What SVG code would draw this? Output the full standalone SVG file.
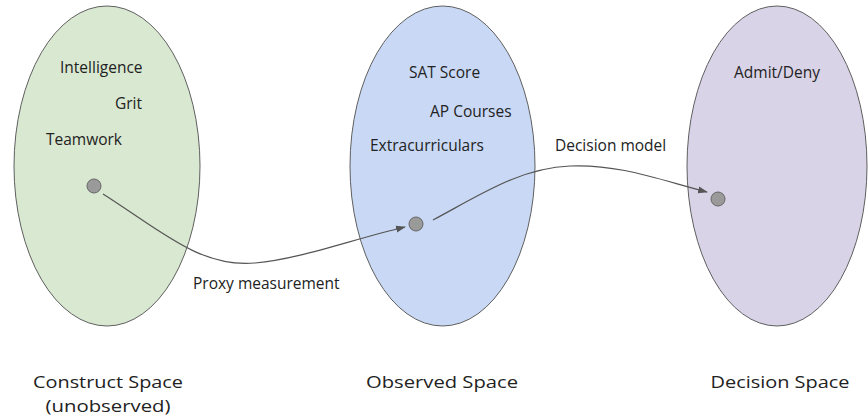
<svg xmlns="http://www.w3.org/2000/svg" width="868" height="416" viewBox="0 0 868 416">
<style>
.sp{stroke:#5f5f5f;stroke-width:1}
.dot{fill:#9a9a9a;stroke:#666;stroke-width:1}
.t{font-family:"Open Sans",sans-serif;font-size:15.5px;fill:#222}
.b{font-family:"Open Sans",sans-serif;font-size:16.5px;fill:#222;text-anchor:middle}
.c{fill:none;stroke:#555;stroke-width:1.2}
</style>
<defs>
<marker id="ah" markerWidth="10" markerHeight="8" refX="9" refY="4" orient="auto" markerUnits="userSpaceOnUse">
<path d="M0,0.5 L10,4 L0,7.5 Z" fill="#555"/>
</marker>
</defs>
<rect width="868" height="416" fill="#fff"/>
<g id="construct">
<ellipse class="sp" cx="107" cy="166" rx="93" ry="160" fill="#d9e8d1"/>
<text class="t" x="60" y="73">Intelligence</text>
<text class="t" x="115" y="109">Grit</text>
<text class="t" x="46" y="145">Teamwork</text>
<circle class="dot" cx="94" cy="186" r="7"/>
<text class="b" x="108" y="388" textLength="150" lengthAdjust="spacingAndGlyphs">Construct Space</text>
<text class="b" x="108" y="412" textLength="125" lengthAdjust="spacingAndGlyphs">(unobserved)</text>
</g>
<g id="observed">
<ellipse class="sp" cx="442.5" cy="166" rx="92.5" ry="160" fill="#c9d9f5"/>
<text class="t" x="409" y="78">SAT Score</text>
<text class="t" x="430" y="117">AP Courses</text>
<text class="t" x="370" y="151">Extracurriculars</text>
<circle class="dot" cx="416" cy="224" r="7"/>
<text class="b" x="442" y="388" textLength="152" lengthAdjust="spacingAndGlyphs">Observed Space</text>
</g>
<g id="decision">
<ellipse class="sp" cx="777" cy="166" rx="90" ry="160" fill="#d9d3e8"/>
<text class="t" x="734" y="78">Admit/Deny</text>
<circle class="dot" cx="718" cy="199" r="7"/>
<text class="b" x="780" y="388" textLength="139" lengthAdjust="spacingAndGlyphs">Decision Space</text>
</g>
<g id="connectors">
<path class="c" d="M103,194 C160,230 200,268 255,263 C300,259 350,240 405,227" marker-end="url(#ah)"/>
<text class="t" x="193" y="289">Proxy measurement</text>
<path class="c" d="M433,220 C480,195 520,168 570,166 C620,164 660,180 707,192" marker-end="url(#ah)"/>
<text class="t" x="555" y="151">Decision model</text>
</g>
</svg>
